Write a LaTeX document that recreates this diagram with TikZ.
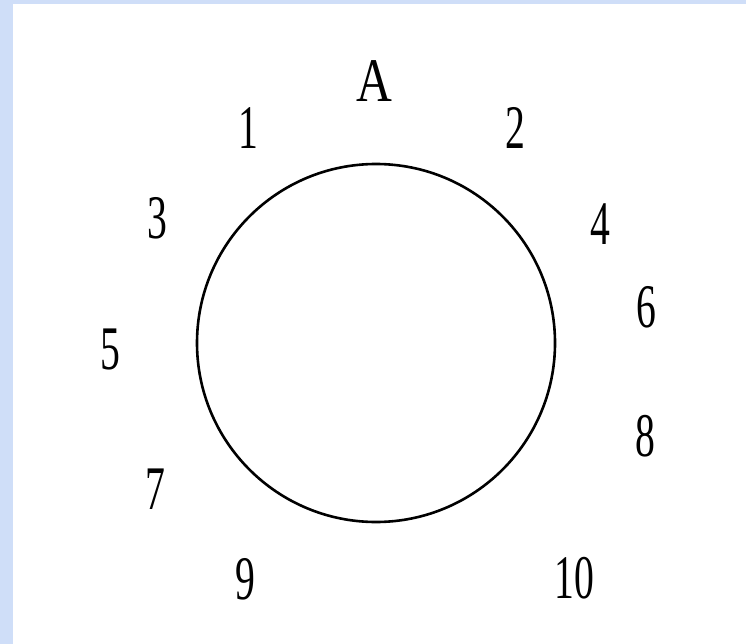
\documentclass[tikz,border=0pt]{standalone}
\usepackage{fontspec}
\setmainfont{Liberation Serif}
\definecolor{frameblue}{RGB}{207,222,248}
\tikzset{
  lbl/.style={inner sep=0pt, font=\fontsize{62}{62}\selectfont},
  ring/.style={circle, draw=black, line width=2.6pt, minimum size=358pt, inner sep=0pt}
}
\newcommand{\nl}[1]{\scalebox{0.64}[1]{#1}}
\begin{document}
\begin{tikzpicture}[x=1pt,y=-1pt]
\useasboundingbox (0,0) rectangle (746,644);
\fill[frameblue] (0,0) rectangle (746,644);
\fill[white] (13,4) rectangle (746,644);
\node[ring] (c) at (376,343) {};
\node[lbl] (A) at (374,81) {\scalebox{0.8}[1]{A}};
\node[lbl] (n1) at (248,128) {\nl{1}};
\node[lbl] (n2) at (515,128) {\nl{2}};
\node[lbl] (n3) at (157,218) {\nl{3}};
\node[lbl] (n4) at (600,224) {\nl{4}};
\node[lbl] (n5) at (110,350) {\nl{5}};
\node[lbl] (n6) at (646,307) {\nl{6}};
\node[lbl] (n7) at (155,489) {\nl{7}};
\node[lbl] (n8) at (645,436) {\nl{8}};
\node[lbl] (n9) at (245,579) {\nl{9}};
\node[lbl] (n10) at (574,578) {\nl{10}};
\end{tikzpicture}
\end{document}
